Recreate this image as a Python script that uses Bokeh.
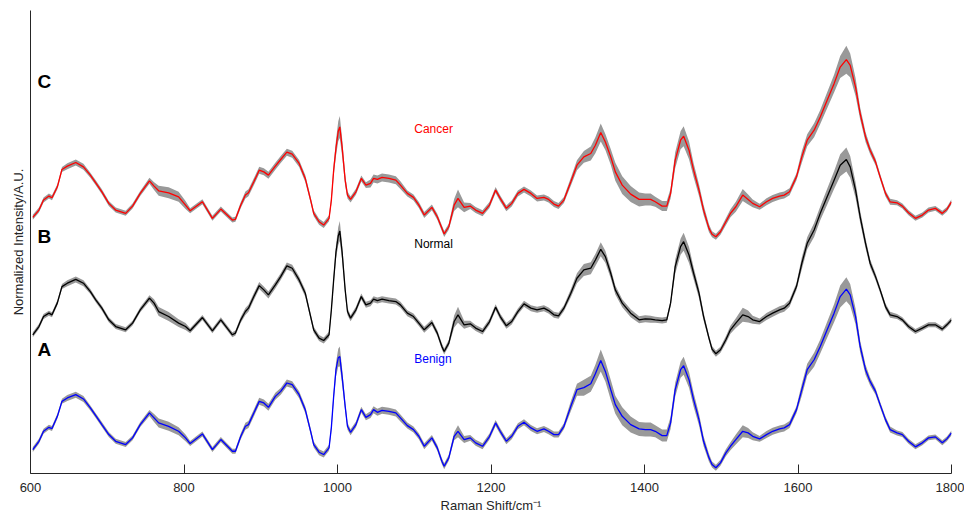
from bokeh.plotting import figure
from bokeh.models import FixedTicker
from bokeh.core.properties import value
from bokeh.embed import file_html
from bokeh.resources import INLINE

# ---------------- data ----------------
raman_shift = [603, 611, 617, 624, 628, 635, 641, 648, 659, 669,
               678, 685, 693, 702, 711, 724, 733, 743, 755, 761,
               767, 780, 793, 802, 808, 824, 837, 848, 863, 867,
               874, 880, 884, 891, 898, 904, 910, 919, 926, 934,
               941, 950, 958, 965, 969, 976, 982, 989, 992, 995,
               998, 1001, 1003, 1006, 1010, 1013, 1017, 1024, 1031, 1037,
               1043, 1047, 1052, 1058, 1067, 1076, 1082, 1091, 1099, 1106,
               1113, 1123, 1130, 1136, 1139, 1145, 1152, 1157, 1165, 1173,
               1180, 1189, 1198, 1206, 1212, 1220, 1227, 1235, 1243, 1252,
               1260, 1269, 1275, 1282, 1288, 1295, 1304, 1312, 1321, 1330,
               1336, 1343, 1349, 1356, 1362, 1371, 1382, 1393, 1401, 1408,
               1414, 1423, 1429, 1434, 1440, 1447, 1451, 1458, 1464, 1471,
               1477, 1484, 1488, 1493, 1499, 1506, 1512, 1519, 1528, 1535,
               1541, 1550, 1559, 1567, 1576, 1582, 1589, 1598, 1605, 1612,
               1621, 1629, 1638, 1647, 1655, 1663, 1668, 1675, 1681, 1688,
               1694, 1701, 1707, 1714, 1720, 1729, 1736, 1744, 1753, 1762,
               1770, 1779, 1788, 1794, 1800]

normal = [139, 147.3, 157.3, 160.7, 159, 171, 187.3, 190.7, 194.5, 190.7,
          182.3, 174, 165.7, 154, 147.3, 144, 150.7, 164, 175.7, 170.7,
          162.3, 157.3, 150.7, 147.3, 143, 156.3, 143, 154, 139, 140.7,
          154, 162.3, 165.7, 177.3, 188.3, 184, 179, 189, 197.3, 208,
          205.7, 194, 180.7, 157.3, 144, 135.7, 133.3, 139, 164, 194,
          222, 238, 243, 222, 184, 162.3, 155.7, 164, 177.3, 169,
          170.7, 174.7, 173.3, 174.7, 173.3, 172.3, 169, 160.7, 157.3, 150.7,
          144, 151.3, 140.7, 127.3, 122.3, 130.7, 152.3, 159, 149, 150,
          145.7, 142.3, 152, 166.7, 157.3, 148, 152.3, 162.3, 170, 165.7,
          164, 165.7, 163.3, 159, 158, 165.7, 180.7, 195.7, 204, 205.7,
          214, 224.7, 217.3, 200.7, 184, 170.7, 160.7, 154, 155, 154.7,
          154, 153.3, 154, 170.7, 207.3, 227.3, 232.3, 219, 200.7, 180.7,
          157.3, 135.7, 124.7, 120, 124, 134, 144, 150.7, 159, 157.3,
          154, 152.3, 157.3, 160.7, 164, 165.7, 170.7, 187.3, 210.7, 230.7,
          244, 260.7, 277.3, 294, 309, 314.7, 307.3, 284, 257.3, 230.7,
          210.7, 197.3, 184, 167.3, 159, 157.3, 154, 147.3, 142.3, 145.7,
          149, 149, 144.7, 149, 154]

cancer = [256.7, 264, 274, 278, 276.3, 287.3, 304.7, 308, 311.7, 307.3,
          299, 291.3, 282.3, 270.7, 264, 260.7, 268, 280.7, 293.3, 288,
          283.3, 281.3, 277.3, 269, 263.3, 272.3, 255.7, 265, 254, 254.7,
          269, 279, 281.3, 292.3, 304, 302.3, 299, 308, 314.7, 322,
          320, 310.7, 295.7, 274, 260.7, 252.3, 249, 255.7, 274, 304,
          326, 343, 347.3, 327.3, 294, 279, 274.7, 282.3, 295.7, 289,
          290.7, 295.7, 294.7, 296.7, 295.7, 294, 289, 280.7, 276.7, 269,
          259, 266.7, 257.3, 245.7, 240, 247.3, 269, 275.7, 266.7, 268,
          264, 260.7, 269, 284, 275.7, 265.7, 270.7, 280.7, 284.7, 280.7,
          275.7, 276.7, 274.7, 270, 268, 274, 292.3, 309, 317.3, 320.7,
          329, 341.7, 332.3, 317.3, 302.3, 289, 280, 274.7, 274.7, 274.7,
          272.3, 268, 268, 280.7, 314, 334, 338, 324, 304, 284,
          264, 245.7, 239.7, 237.3, 242.3, 252.3, 260.7, 267.3, 279, 274.7,
          270.7, 267.3, 272.3, 275.7, 278, 279, 282.3, 297.3, 317.3, 334,
          344, 357.3, 374, 390.7, 407.3, 414.7, 409, 387.3, 360.7, 337.3,
          324, 312.3, 297.3, 280.7, 272.3, 271.3, 268, 261.3, 255.7, 259,
          264, 265.7, 260.7, 264.7, 272.3]

benign = [24, 32.3, 42.3, 46.3, 45, 57.3, 72.3, 75.7, 79, 74.7,
          65.7, 58, 49, 39, 32.3, 29, 35.7, 49, 60.7, 55.7,
          50.7, 47.3, 42.3, 35.7, 30, 39.7, 24, 34, 22.3, 22.3,
          37.3, 47.3, 49, 60.7, 72.3, 70.7, 66.3, 77.3, 82.3, 90.7,
          89, 79, 64, 42.3, 29, 21.3, 19, 25.7, 46, 77.3,
          104, 116, 117.3, 97.3, 67.3, 47.3, 41.3, 49, 64, 56.3,
          59, 64, 61.3, 63.3, 62.3, 60.7, 55.7, 48, 44, 37.3,
          27.3, 35.7, 25.7, 12.3, 7.3, 15.7, 37.3, 42.3, 34, 35.7,
          30.7, 27.3, 37, 50.7, 42.3, 32.3, 37.3, 47.3, 51.3, 45.7,
          42.3, 44.7, 42.3, 39, 39, 47.3, 67.3, 84, 86, 90,
          100, 113.3, 102.3, 84, 69, 57.3, 49, 44.7, 44, 44,
          42.3, 38, 38, 50.7, 84, 104, 108, 94, 74, 54,
          32.3, 15.7, 9, 5.7, 10.7, 20.7, 27.3, 34, 42.3, 40.7,
          37.3, 34.7, 39, 42.3, 44.7, 45.7, 49, 64, 84, 104,
          114, 127.3, 144, 160.7, 177.3, 184.7, 179, 157.3, 127.3, 104,
          92.3, 82.3, 69, 54, 44, 40.7, 39, 32.3, 26.7, 30.7,
          35.7, 36.7, 30.7, 34.7, 40.7]

normal_sd = [2.5, 2.5, 2.5, 2.5, 2.5, 2.5, 2.5, 3, 3, 3,
             2.5, 2.5, 2.5, 2.5, 2.5, 2.5, 2.5, 2.5, 3, 4,
             4.5, 4.5, 4, 3.5, 2.5, 2.5, 2.5, 2.5, 2.5, 2.5,
             3, 3.5, 3.5, 3.5, 3.5, 3.5, 3.5, 3.5, 3.5, 3.5,
             3.5, 3.5, 3.5, 3, 3, 3, 3, 3, 4, 5,
             7, 9, 10, 8, 5, 3.5, 3, 3, 3, 3,
             3, 3, 3, 3, 3, 3, 3, 3, 3, 3,
             3, 3, 3, 3, 3, 3, 6, 8, 4, 3,
             3, 3, 3, 3, 3, 3, 3, 3, 3, 3,
             3, 3, 3, 3, 3, 3, 4, 5, 6, 6,
             6, 7, 6, 5, 4.5, 4, 4, 3.5, 3.5, 3.5,
             3, 3, 3, 3, 7, 8, 9, 8, 6, 5,
             4, 3, 3, 3, 3, 3.5, 4, 5, 7, 6,
             4, 3, 3.5, 3.5, 3.5, 3.5, 3.5, 3.5, 6, 6,
             7, 7, 8, 9, 11, 12, 11, 8, 6, 5,
             4, 3.5, 3, 3, 3, 2.5, 2.5, 2.5, 2.5, 2.5,
             2.5, 2.5, 2.5, 2.5, 2.5]

cancer_sd = [2.5, 2.5, 2.5, 2.5, 2.5, 2.5, 2.5, 3, 3, 3,
             2.5, 2.5, 2.5, 2.5, 2.5, 2.5, 2.5, 2.5, 3, 4,
             5, 5.5, 5, 4, 2.5, 2.5, 2.5, 2.5, 2.5, 2.5,
             3, 3.5, 3.5, 3.5, 3.5, 3.5, 3.5, 3.5, 3.5, 3.5,
             3.5, 3.5, 3.5, 3, 3, 3, 3, 3, 4, 6,
             8, 10, 11, 9, 6, 3.5, 3, 3, 3, 3,
             4, 4, 4, 4, 4, 4, 4, 3, 3, 3,
             3, 3, 3, 3, 3, 3, 6, 9, 5, 3,
             3, 3, 3, 3, 3, 3, 3, 3, 3, 3,
             3, 3, 3, 3, 3, 3, 4, 5, 6, 7,
             8, 9, 8, 8, 9, 9, 8, 7, 6, 6,
             5, 5, 5, 5, 8, 9, 10, 9, 7, 6,
             5, 4, 3, 3, 3, 3.5, 4, 5, 6, 5,
             4, 3, 3.5, 3.5, 3.5, 3.5, 3.5, 3.5, 6, 6,
             7, 7, 8, 9, 11, 14, 12, 9, 6, 5,
             4, 3.5, 3, 3, 3, 2.5, 2.5, 2.5, 2.5, 2.5,
             2.5, 2.5, 2.5, 2.5, 2.5]

benign_sd = [2.5, 2.5, 2.5, 2.5, 2.5, 2.5, 2.5, 3, 3, 3,
             2.5, 2.5, 2.5, 2.5, 2.5, 2.5, 2.5, 2.5, 3, 4,
             4.5, 4.5, 4, 3.5, 2.5, 2.5, 2.5, 2.5, 2.5, 2.5,
             3, 3.5, 3.5, 3.5, 3.5, 3.5, 3.5, 3.5, 3.5, 3.5,
             3.5, 3.5, 3.5, 3, 3, 3, 3, 3, 4, 5,
             7, 9, 10, 8, 5, 3.5, 3, 3, 3, 3,
             3.5, 3.5, 3.5, 3.5, 3.5, 3.5, 3.5, 3, 3, 3,
             3, 3, 3, 3, 3, 3, 4, 6, 3.5, 3,
             3, 3, 3, 3, 3, 3, 3, 3, 3, 3,
             3, 3, 3, 3, 3, 3, 5, 6, 8, 8,
             9, 11, 10, 10, 9, 9, 8, 7, 7, 7,
             6, 6, 6, 6, 7, 8, 9, 8, 7, 6,
             5, 4, 3, 3, 3, 3.5, 4, 5, 6, 5,
             4, 3, 3.5, 3.5, 3.5, 3.5, 3.5, 3.5, 6, 6,
             7, 7, 8, 9, 11, 12, 11, 8, 6, 5,
             4, 3.5, 3, 3, 3, 2.5, 2.5, 2.5, 2.5, 2.5,
             2.5, 2.5, 2.5, 2.5, 2.5]

x_ticks = [600, 800, 1000, 1200, 1400, 1600, 1800]
series_names = ["Cancer", "Normal", "Benign"]
series_colors = ["#ff0000", "#000000", "#0000ff"]
panel_letters = ["C", "B", "A"]

for arr in (normal, cancer, benign, normal_sd, cancer_sd, benign_sd):
    assert len(arr) == len(raman_shift), len(arr)

# ---------------- figure ----------------
FONT = "Liberation Sans"
AXIS_COLOR = "#262626"

p = figure(width=964, height=515, x_range=(600, 1800), y_range=(0, 464),
           output_backend="svg", toolbar_location=None,
           min_border_left=30, min_border_right=13,
           min_border_top=10, min_border_bottom=41)
p.outline_line_color = None
p.grid.visible = False
p.background_fill_color = "white"
p.border_fill_color = "white"

# x axis
p.xaxis.ticker = FixedTicker(ticks=x_ticks)
p.xaxis.major_tick_in = 9
p.xaxis.major_tick_out = 0
p.xaxis.minor_tick_in = 0
p.xaxis.minor_tick_out = 0
p.xaxis.major_tick_line_color = AXIS_COLOR
p.xaxis.axis_line_color = AXIS_COLOR
p.xaxis.major_label_text_font = FONT
p.xaxis.major_label_text_font_size = "13px"
p.xaxis.major_label_text_color = AXIS_COLOR
p.xaxis.major_label_standoff = 9
p.xaxis.axis_label = "Raman Shift/cm\u207b\u00b9"
p.xaxis.axis_label_text_font = FONT
p.xaxis.axis_label_text_font_size = "13px"
p.xaxis.axis_label_text_font_style = "normal"
p.xaxis.axis_label_text_color = AXIS_COLOR
p.xaxis.axis_label_standoff = 3

# y axis (no ticks)
p.yaxis.ticker = FixedTicker(ticks=[])
p.yaxis.major_tick_in = 0
p.yaxis.major_tick_out = 0
p.yaxis.minor_tick_in = 0
p.yaxis.minor_tick_out = 0
p.yaxis.major_label_standoff = 0
p.yaxis.axis_line_color = AXIS_COLOR
p.yaxis.axis_label = "Normalized Intensity/A.U."
p.yaxis.axis_label_text_font = FONT
p.yaxis.axis_label_text_font_size = "13px"
p.yaxis.axis_label_text_font_style = "normal"
p.yaxis.axis_label_text_color = AXIS_COLOR
p.yaxis.axis_label_standoff = 5

# bands and mean spectra
groups = [(cancer, cancer_sd, series_colors[0]),
          (normal, normal_sd, series_colors[1]),
          (benign, benign_sd, series_colors[2])]
for mean, sd, col in groups:
    lo = [m - s for m, s in zip(mean, sd)]
    hi = [m + s for m, s in zip(mean, sd)]
    p.varea(x=raman_shift, y1=lo, y2=hi, fill_color="#999999", fill_alpha=1.0)
    p.line(raman_shift, mean, line_color=col, line_width=1.3)

# panel letters
p.text(x=[609, 609, 609], y=[393, 238, 124], text=panel_letters,
       text_font=value(FONT), text_font_style="bold", text_font_size="19px",
       text_color="black", text_align="left", text_baseline="alphabetic")

# series names
p.text(x=[1100, 1100, 1100], y=[345, 230, 114.5], text=series_names,
       text_font=value(FONT), text_font_size="12px", text_color=series_colors,
       text_align="left", text_baseline="alphabetic")

open("out.html", "w").write(file_html(p, INLINE))
